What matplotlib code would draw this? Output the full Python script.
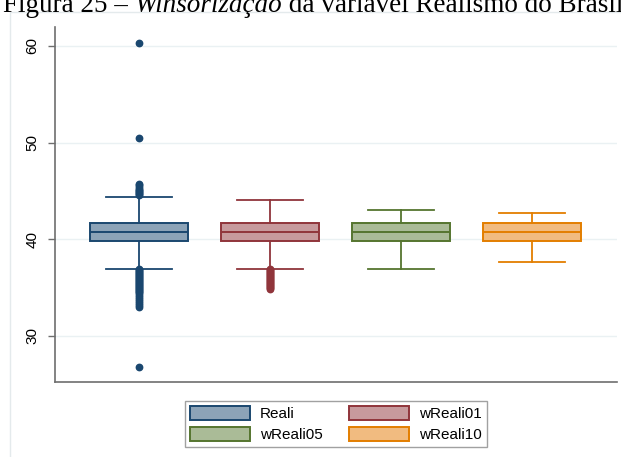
import matplotlib
matplotlib.use("Agg")
import matplotlib.pyplot as plt
from matplotlib.patches import Rectangle, Patch

# Box summaries for the original variable and its winsorized versions
series = ["Reali", "wReali01", "wReali05", "wReali10"]
q1 = [39.82, 39.82, 39.82, 39.82]
median = [40.79, 40.79, 40.79, 40.79]
q3 = [41.65, 41.65, 41.65, 41.65]
whisker_low = [36.96, 36.96, 36.96, 37.65]
whisker_high = [44.40, 44.06, 43.03, 42.69]

# Outside values
outliers_reali = [60.3, 50.45, 45.7, 45.6, 45.4, 45.2, 45.1, 45.0, 44.9, 44.8,
                  44.7, 44.6,
                  36.9, 36.8, 36.7, 36.6, 36.5, 36.4, 36.3, 36.2, 36.1, 36.0,
                  35.9, 35.8, 35.7, 35.6, 35.5, 35.4, 35.3, 35.2, 35.1, 35.0,
                  34.9, 34.8, 34.7, 34.6, 34.4, 34.2, 34.0, 33.8, 33.6, 33.4,
                  33.2, 33.0, 26.8]
outliers_w01 = [36.9, 36.8, 36.7, 36.6, 36.5, 36.4, 36.3, 36.2, 36.1, 36.0,
                35.9, 35.8, 35.7, 35.6, 35.5, 35.4, 35.3, 35.2, 35.1, 35.0, 34.9]
outliers_w05 = []
outliers_w10 = []
outliers = [outliers_reali, outliers_w01, outliers_w05, outliers_w10]

y_ticks = [30, 40, 50, 60]

line_colors = ["#1a476f", "#90353b", "#55752f", "#e37e00"]
fill_colors = ["#8ca3b7", "#c79a9d", "#aabb97", "#f1bb80"]

W, H = 621, 457
fig = plt.figure(figsize=(W / 100, H / 100), dpi=100)
fig.patch.set_facecolor("white")

# outer graph region border
fig.patches.append(Rectangle((10 / W, -0.05), 1.0, 1 - 12 / H + 0.05,
                             transform=fig.transFigure, fill=False,
                             edgecolor="#e4eaec", linewidth=1.0))

ax = fig.add_axes([55 / W, 1 - 382 / H, (617 - 55) / W, (382 - 27) / H])

stats = []
for i, name in enumerate(series):
    stats.append(dict(label=name, q1=q1[i], med=median[i], q3=q3[i],
                      whislo=whisker_low[i], whishi=whisker_high[i],
                      fliers=outliers[i]))

positions = [1, 2, 3, 4]
for i, st in enumerate(stats):
    c = line_colors[i]
    ax.bxp([st], positions=[positions[i]], widths=0.75, capwidths=0.505,
           patch_artist=True, showfliers=True,
           boxprops=dict(facecolor=fill_colors[i], edgecolor=c, linewidth=1.4),
           medianprops=dict(color=c, linewidth=1.4),
           whiskerprops=dict(color=c, linewidth=1.3),
           capprops=dict(color=c, linewidth=1.3),
           flierprops=dict(marker="o", markerfacecolor=c, markeredgecolor=c,
                           markersize=4.6, linestyle="none"),
           zorder=3)

ax.set_xlim(0.355, 4.652)
ax.set_ylim(25.24, 61.96)
ax.set_yticks(y_ticks)
ax.set_yticklabels([str(t) for t in y_ticks], rotation=90, va="center",
                   fontsize=11, family="Liberation Sans")
ax.set_xticks([])
ax.grid(axis="y", color="#eaf1f3", linewidth=1.0, zorder=0)
ax.set_axisbelow(True)
for s in ["top", "right"]:
    ax.spines[s].set_visible(False)
for s in ["left", "bottom"]:
    ax.spines[s].set_color("#6e6e6e")
    ax.spines[s].set_linewidth(1.2)
ax.tick_params(axis="y", length=5, width=1.0, color="#6e6e6e", pad=6)

handles = [Patch(facecolor=fill_colors[i], edgecolor=line_colors[i],
                 linewidth=1.4, label=series[i]) for i in range(4)]
# row-wise order: Reali, wReali01 / wReali05, wReali10
order = [0, 2, 1, 3]
leg = fig.legend([handles[k] for k in order], [series[k] for k in order],
                 ncol=2, loc="upper center",
                 bbox_to_anchor=(336 / W, 1 - 393 / H),
                 frameon=True, fancybox=False, edgecolor="#8a8a8a",
                 prop=dict(family="Liberation Sans", size=11),
                 handlelength=3.9, handleheight=1.05, handletextpad=0.65,
                 columnspacing=1.75, labelspacing=0.35, borderpad=0.35)
leg.get_frame().set_linewidth(1.0)

# caption with italic word
fs = 19.5
y_cap = 1 - 12 / H
renderer = fig.canvas.get_renderer()
x0 = 3 / W
t1 = fig.text(x0, y_cap, "Figura 25 – ", family="Liberation Serif",
              fontsize=fs, va="baseline", ha="left")
w1 = t1.get_window_extent(renderer).width
t2 = fig.text(x0 + w1 / W, y_cap, "Winsorização", family="Liberation Serif",
              style="italic", fontsize=fs, va="baseline", ha="left")
w2 = t2.get_window_extent(renderer).width
fig.text(x0 + (w1 + w2) / W, y_cap, " da variável Realismo do Brasil",
         family="Liberation Serif", fontsize=fs, va="baseline", ha="left")

fig.savefig("out.png", dpi=100)
